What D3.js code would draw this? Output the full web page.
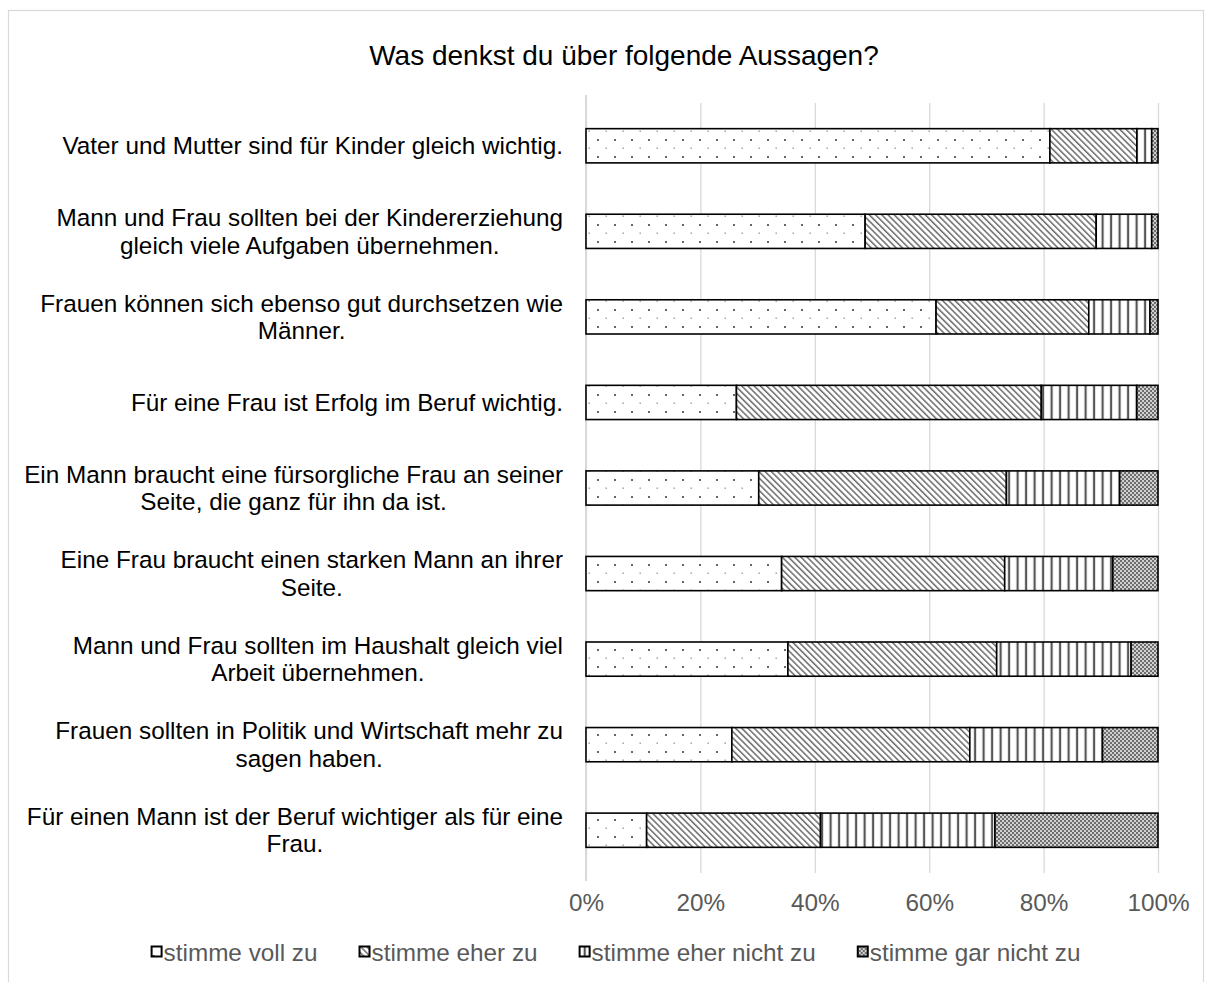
<!DOCTYPE html>
<html><head><meta charset="utf-8">
<script src="https://cdn.jsdelivr.net/npm/d3@7"></script>
<style>
html,body{margin:0;padding:0;background:#fff;}
svg{display:block;font-family:Arial,"Liberation Sans",sans-serif;}
</style></head>
<body>
<svg id="chart" width="1205" height="982"></svg>
<script>
// ---- data ----
const title = "Was denkst du über folgende Aussagen?";
const categories = [
  ["Vater und Mutter sind für Kinder gleich wichtig."],
  ["Mann und Frau sollten bei der Kindererziehung", "gleich viele Aufgaben übernehmen."],
  ["Frauen können sich ebenso gut durchsetzen wie", "Männer."],
  ["Für eine Frau ist Erfolg im Beruf wichtig."],
  ["Ein Mann braucht eine fürsorgliche Frau an seiner", "Seite, die ganz für ihn da ist."],
  ["Eine Frau braucht einen starken Mann an ihrer", "Seite."],
  ["Mann und Frau sollten im Haushalt gleich viel", "Arbeit übernehmen."],
  ["Frauen sollten in Politik und Wirtschaft mehr zu", "sagen haben."],
  ["Für einen Mann ist der Beruf wichtiger als für eine", "Frau."]
];
const seriesNames = ["stimme voll zu", "stimme eher zu", "stimme eher nicht zu", "stimme gar nicht zu"];
const vollZu      = [81.1, 48.8, 61.2, 26.3, 30.2, 34.2, 35.3, 25.5, 10.6];
const eherZu      = [15.2, 40.4, 26.7, 53.3, 43.3, 39.0, 36.5, 41.6, 30.4];
const eherNichtZu = [ 2.6,  9.7, 10.7, 16.7, 19.8, 18.9, 23.5, 23.2, 30.5];
const garNichtZu  = [ 1.1,  1.1,  1.4,  3.7,  6.7,  7.9,  4.7,  9.7, 28.5];
const tickValues = [0, 0.2, 0.4, 0.6, 0.8, 1.0];

// ---- build table ----
const seriesArrays = [vollZu, eherZu, eherNichtZu, garNichtZu];
const rows = categories.map((c, i) => {
  const o = {idx: i};
  seriesNames.forEach((s, j) => o[s] = seriesArrays[j][i]);
  return o;
});
const stacked = d3.stack().keys(seriesNames).offset(d3.stackOffsetExpand)(rows);

const svg = d3.select("#chart");
const plot = {left: 586, right: 1158, top: 103, bottom: 873};
const FS = 24.3;

// ---- patterns ----
const defs = svg.append("defs");
const pats = ["p-dots", "p-diag", "p-vert", "p-check"];
let p = defs.append("pattern").attr("id", "p-dots").attr("patternUnits", "userSpaceOnUse")
  .attr("width", 17).attr("height", 17);
p.append("rect").attr("width", 17).attr("height", 17).attr("fill", "#fff");
p.append("rect").attr("x", 2).attr("y", 3).attr("width", 2).attr("height", 2).attr("fill", "#666");
p.append("rect").attr("x", 10.5).attr("y", 11.5).attr("width", 1.4).attr("height", 1.4).attr("fill", "#999");
p = defs.append("pattern").attr("id", "p-diag").attr("patternUnits", "userSpaceOnUse")
  .attr("width", 4.4).attr("height", 10).attr("patternTransform", "rotate(-45)");
p.append("rect").attr("width", 4.4).attr("height", 10).attr("fill", "#fff");
p.append("rect").attr("x", 0).attr("y", 0).attr("width", 1.5).attr("height", 10).attr("fill", "#6a6a6a");
p = defs.append("pattern").attr("id", "p-vert").attr("patternUnits", "userSpaceOnUse")
  .attr("width", 8.5).attr("height", 10).attr("x", plot.left);
p.append("rect").attr("width", 8.5).attr("height", 10).attr("fill", "#fff");
p.append("rect").attr("x", 5.5).attr("y", 0).attr("width", 2.2).attr("height", 10).attr("fill", "#555");
p = defs.append("pattern").attr("id", "p-check").attr("patternUnits", "userSpaceOnUse")
  .attr("width", 4).attr("height", 4);
p.append("rect").attr("width", 4).attr("height", 4).attr("fill", "#d0d0d0");
p.append("rect").attr("x", 0).attr("y", 0).attr("width", 2).attr("height", 2).attr("fill", "#6e6e6e");
p.append("rect").attr("x", 2).attr("y", 2).attr("width", 2).attr("height", 2).attr("fill", "#6e6e6e");

// ---- chart frame ----
svg.append("rect").attr("x", 8.5).attr("y", 10.5).attr("width", 1195).attr("height", 1000)
  .attr("fill", "none").attr("stroke", "#d9d9d9").attr("stroke-width", 1.2);

// ---- title ----
svg.append("text").attr("x", 624).attr("y", 65).attr("text-anchor", "middle")
  .attr("font-size", 28).attr("fill", "#000").text(title);

// ---- scales ----
const x = d3.scaleLinear().domain([0, 1]).range([plot.left, plot.right]);
const y = d3.scaleBand().domain(d3.range(categories.length)).range([plot.top, plot.bottom])
  .paddingInner(0.6).paddingOuter(0.3);

// ---- gridlines & ticks ----
const xAxis = d3.axisBottom(x).tickValues(tickValues).tickFormat(d3.format(".0%"))
  .tickSize(-(plot.bottom - plot.top)).tickPadding(21);
const gx = svg.append("g").attr("transform", `translate(0,${plot.bottom})`).call(xAxis);
gx.select(".domain").remove();
gx.selectAll(".tick line").attr("stroke", "#d9d9d9").attr("stroke-width", 1.3);
gx.selectAll(".tick text").attr("font-size", FS).attr("fill", "#595959")
  .attr("font-family", "Arial, 'Liberation Sans', sans-serif");
svg.append("line").attr("x1", plot.left).attr("x2", plot.left)
  .attr("y1", plot.top - 8).attr("y2", plot.bottom + 8)
  .attr("stroke", "#d9d9d9").attr("stroke-width", 2);

// ---- bars ----
const layers = svg.append("g").selectAll("g").data(stacked).join("g")
  .attr("fill", (d, i) => `url(#${pats[i]})`);
layers.selectAll("rect").data(d => d).join("rect")
  .attr("x", d => x(d[0]))
  .attr("width", d => x(d[1]) - x(d[0]))
  .attr("y", d => y(d.data.idx))
  .attr("height", y.bandwidth())
  .attr("stroke", "#000").attr("stroke-width", 1.6);

// ---- category labels ----
const lblRight = 563, lineH = 27.5;
categories.forEach((lines, i) => {
  const cy = y(i) + y.bandwidth() / 2;
  const g = svg.append("g");
  const texts = lines.map((ln, k) => g.append("text")
    .attr("font-size", FS).attr("fill", "#000")
    .attr("y", cy + (k - (lines.length - 1) / 2) * lineH + 8.5)
    .attr("text-anchor", "middle").text(ln));
  const maxW = d3.max(texts, t => t.node().getComputedTextLength());
  texts.forEach(t => t.attr("x", lblRight - maxW / 2));
});

// ---- legend ----
const lg = svg.append("g");
let cx = 0;
seriesNames.forEach((s, i) => {
  const it = lg.append("g").attr("transform", `translate(${cx},0)`);
  it.append("rect").attr("x", 1).attr("y", -5.5).attr("width", 10).attr("height", 10)
    .attr("fill", `url(#${pats[i]})`).attr("stroke", "#000").attr("stroke-width", 2);
  const t = it.append("text").attr("x", 13).attr("y", 8.5).attr("font-size", FS)
    .attr("fill", "#595959").text(s);
  const w = t.node().getComputedTextLength();
  cx += 13 + w + 41;
});
const totalW = cx - 41;
lg.attr("transform", `translate(${615.5 - totalW / 2},952)`);
</script>
</body></html>
